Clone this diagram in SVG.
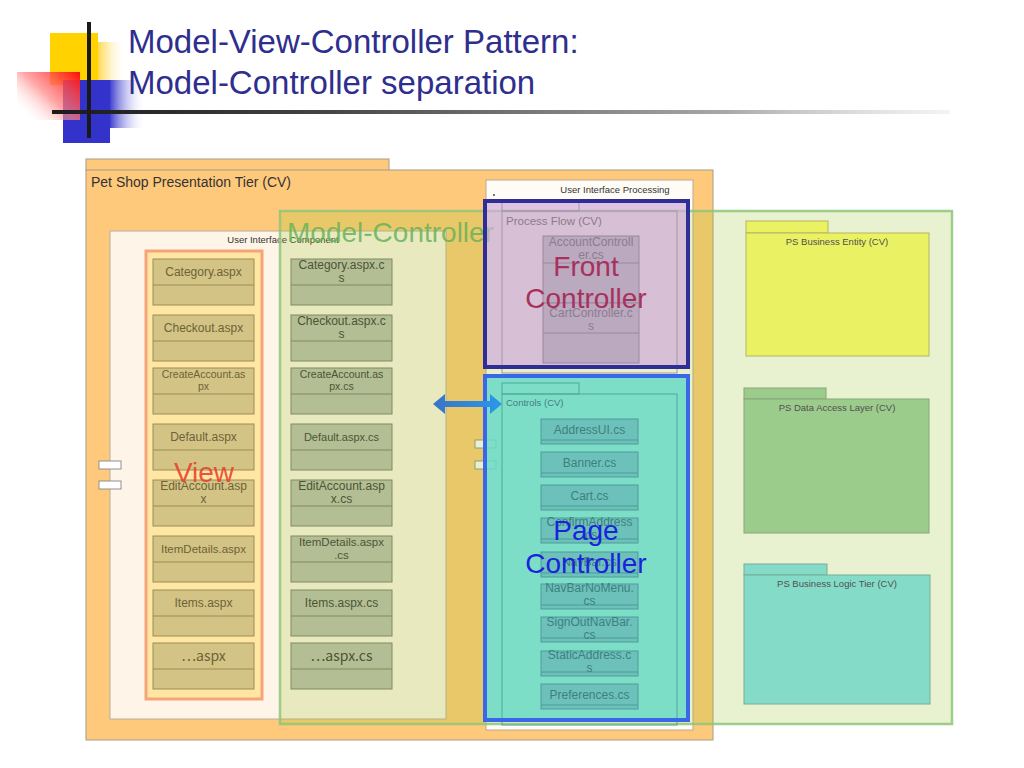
<svg xmlns="http://www.w3.org/2000/svg" width="1024" height="768" viewBox="0 0 1024 768">
<defs>
<linearGradient id="gYel" x1="0" y1="0" x2="1" y2="0"><stop offset="0" stop-color="#FFD84A"/><stop offset="1" stop-color="#FFFFFF" stop-opacity="0"/></linearGradient>
<linearGradient id="gRed" x1="1" y1="0" x2="0" y2="0.8"><stop offset="0" stop-color="#FF0A0A"/><stop offset="0.55" stop-color="#FF8080" stop-opacity="0.7"/><stop offset="1" stop-color="#FFFFFF" stop-opacity="0"/></linearGradient>
<linearGradient id="gBlue" x1="0" y1="0" x2="1" y2="0"><stop offset="0" stop-color="#4040D0"/><stop offset="1" stop-color="#FFFFFF" stop-opacity="0"/></linearGradient>
<linearGradient id="gLine" gradientUnits="userSpaceOnUse" x1="52" y1="0" x2="950" y2="0"><stop offset="0" stop-color="#1A1A1A"/><stop offset="0.3" stop-color="#444444"/><stop offset="0.75" stop-color="#A8A8A8"/><stop offset="1" stop-color="#D8D8D8" stop-opacity="0.3"/></linearGradient>
<linearGradient id="gArrow" x1="0" y1="0" x2="1" y2="0"><stop offset="0" stop-color="#3A74C6"/><stop offset="1" stop-color="#2A98E8"/></linearGradient>
<style>
text{font-family:"Liberation Sans",Arial,"Noto Sans CJK KR",sans-serif}
.title{font-size:33px;fill:#2E2E8E}
.frame{fill:#FFC97C;stroke:#A89A88;stroke-width:1}
.uic{fill:#FFF4E8;stroke:#B8AE9E;stroke-width:1}
.lbl{fill:#333333}
.asp{fill:#D3C486;stroke:#9C8C55;stroke-width:1}
.aspt{fill:#6E6236;text-anchor:middle}
.cs{fill:#B4BE94;stroke:#7F8B5E;stroke-width:1}
.cst{fill:#4C5434;text-anchor:middle}
.pf{fill:#BBA9C0;stroke:#9A88A0;stroke-width:1}
.pft{fill:#8C7C90;text-anchor:middle;font-size:12px}
.ct{fill:#6CC2BA;stroke:#4D9C98;stroke-width:1}
.ctt{fill:#3F7F80;text-anchor:middle;font-size:12px}
.pkgt{font-size:9.5px;fill:#505050;text-anchor:middle}
.port{fill:#FFFFFF;stroke:#909090;stroke-width:1}
.big{font-size:28px;text-anchor:middle}
.cjk{font-family:"Noto Sans CJK KR","Liberation Sans",sans-serif}
</style>
</defs>
<rect width="1024" height="768" fill="#FFFFFF"/>

<g id="decor">
<rect x="50" y="33" width="48" height="52" fill="#FFD200"/>
<rect x="98" y="42" width="28" height="44" fill="url(#gYel)"/>
<rect x="63" y="80" width="47" height="63" fill="#3333CC"/>
<rect x="110" y="80" width="36" height="48" fill="url(#gBlue)"/>
<rect x="17" y="72" width="63" height="48" fill="url(#gRed)"/>
<rect x="52" y="110" width="898" height="4" fill="url(#gLine)"/>
<rect x="87" y="22" width="4" height="116" fill="#1A1A1A"/>
</g>

<g id="title">
<text class="title" x="128" y="53">Model-View-Controller Pattern:</text>
<text class="title" x="128" y="94">Model-Controller separation</text>
</g>

<g id="presentation-tier">
<rect class="frame" x="86" y="159" width="303" height="12"/>
<rect class="frame" x="86" y="170" width="627" height="570"/>
<text class="lbl" x="91" y="187" font-size="14">Pet Shop Presentation Tier (CV)</text>
</g>

<g id="ui-component">
<rect class="uic" x="110" y="231" width="336" height="488"/>
<text class="lbl" x="283" y="243" font-size="9.5" text-anchor="middle">User Interface Component</text>
</g>

<g id="view">
<rect x="146" y="251" width="116" height="448" fill="#FFE6A2" stroke="#F5A47A" stroke-width="3"/>
</g>

<g id="aspx-boxes">
<g id="n-category-aspx"><rect class="asp" x="153" y="259" width="101" height="46"/><line class="asp" x1="153" y1="285" x2="254" y2="285"/><text class="aspt" x="203.5" y="276" font-size="12">Category.aspx</text></g>
<g id="n-checkout-aspx"><rect class="asp" x="153" y="315" width="101" height="46"/><line class="asp" x1="153" y1="341" x2="254" y2="341"/><text class="aspt" x="203.5" y="332" font-size="12">Checkout.aspx</text></g>
<g id="n-createaccount-aspx"><rect class="asp" x="153" y="368" width="101" height="46"/><line class="asp" x1="153" y1="394" x2="254" y2="394"/><text class="aspt" x="203.5" y="378" font-size="10.5">CreateAccount.as</text><text class="aspt" x="203.5" y="390" font-size="10.5">px</text></g>
<g id="n-default-aspx"><rect class="asp" x="153" y="424" width="101" height="46"/><line class="asp" x1="153" y1="450" x2="254" y2="450"/><text class="aspt" x="203.5" y="441" font-size="12">Default.aspx</text></g>
<g id="n-editaccount-aspx"><rect class="asp" x="153" y="480" width="101" height="46"/><line class="asp" x1="153" y1="506" x2="254" y2="506"/><text class="aspt" x="203.5" y="490" font-size="12">EditAccount.asp</text><text class="aspt" x="203.5" y="503" font-size="12">x</text></g>
<g id="n-itemdetails-aspx"><rect class="asp" x="153" y="536" width="101" height="46"/><line class="asp" x1="153" y1="562" x2="254" y2="562"/><text class="aspt" x="203.5" y="553" font-size="11.5">ItemDetails.aspx</text></g>
<g id="n-items-aspx"><rect class="asp" x="153" y="590" width="101" height="46"/><line class="asp" x1="153" y1="616" x2="254" y2="616"/><text class="aspt" x="203.5" y="607" font-size="12">Items.aspx</text></g>
<g id="n-more-aspx"><rect class="asp" x="153" y="643" width="101" height="46"/><line class="asp" x1="153" y1="669" x2="254" y2="669"/><text class="aspt cjk" x="203.5" y="661" font-size="14">…aspx</text></g>
</g>

<g id="ui-processing">
<rect x="486" y="180" width="207" height="550" fill="#FFFCF6" stroke="#B8AA9A" stroke-width="1"/>
<text class="lbl" x="615" y="193" font-size="9.5" text-anchor="middle">User Interface Processing</text>
<circle cx="494" cy="195" r="0.9" fill="#333"/>
</g>

<g id="ports">
<rect class="port" x="99" y="461" width="22" height="8"/>
<rect class="port" x="99" y="481" width="22" height="8"/>
<rect class="port" x="475" y="440" width="21" height="8" fill="#F8F4DC"/>
<rect class="port" x="475" y="461" width="21" height="8" fill="#F8F4DC"/>
</g>

<g id="model-controller">
<rect x="280" y="211" width="672" height="513" fill="rgb(150,195,40)" fill-opacity="0.22" stroke="#8FC57A" stroke-width="2.5" stroke-opacity="0.85"/>
</g>

<g id="cs-boxes">
<g id="n-category-cs"><rect class="cs" x="291" y="259" width="101" height="46"/><line class="cs" x1="291" y1="285" x2="392" y2="285"/><text class="cst" x="341.5" y="269" font-size="12">Category.aspx.c</text><text class="cst" x="341.5" y="282" font-size="12">s</text></g>
<g id="n-checkout-cs"><rect class="cs" x="291" y="315" width="101" height="46"/><line class="cs" x1="291" y1="341" x2="392" y2="341"/><text class="cst" x="341.5" y="325" font-size="12">Checkout.aspx.c</text><text class="cst" x="341.5" y="338" font-size="12">s</text></g>
<g id="n-createaccount-cs"><rect class="cs" x="291" y="368" width="101" height="46"/><line class="cs" x1="291" y1="394" x2="392" y2="394"/><text class="cst" x="341.5" y="378" font-size="10.5">CreateAccount.as</text><text class="cst" x="341.5" y="390" font-size="10.5">px.cs</text></g>
<g id="n-default-cs"><rect class="cs" x="291" y="424" width="101" height="46"/><line class="cs" x1="291" y1="450" x2="392" y2="450"/><text class="cst" x="341.5" y="441" font-size="11">Default.aspx.cs</text></g>
<g id="n-editaccount-cs"><rect class="cs" x="291" y="480" width="101" height="46"/><line class="cs" x1="291" y1="506" x2="392" y2="506"/><text class="cst" x="341.5" y="490" font-size="12">EditAccount.asp</text><text class="cst" x="341.5" y="503" font-size="12">x.cs</text></g>
<g id="n-itemdetails-cs"><rect class="cs" x="291" y="536" width="101" height="46"/><line class="cs" x1="291" y1="562" x2="392" y2="562"/><text class="cst" x="341.5" y="546" font-size="11.5">ItemDetails.aspx</text><text class="cst" x="341.5" y="559" font-size="11.5">.cs</text></g>
<g id="n-items-cs"><rect class="cs" x="291" y="590" width="101" height="46"/><line class="cs" x1="291" y1="616" x2="392" y2="616"/><text class="cst" x="341.5" y="607" font-size="12">Items.aspx.cs</text></g>
<g id="n-more-cs"><rect class="cs" x="291" y="643" width="101" height="46"/><line class="cs" x1="291" y1="669" x2="392" y2="669"/><text class="cst cjk" x="341.5" y="661" font-size="14">…aspx.cs</text></g>
</g>

<g id="packages">
<g id="n-business-entity"><rect x="746" y="221" width="82" height="12" fill="#EAF264" stroke="#B4B464"/><rect x="746" y="233" width="183" height="123" fill="#EAF264" stroke="#B4B464"/><text class="pkgt" x="837" y="245">PS Business Entity (CV)</text></g>
<g id="n-data-access"><rect x="744" y="388" width="82" height="11" fill="#9CCC8C" stroke="#86A676"/><rect x="744" y="399" width="185" height="134" fill="#9CCC8C" stroke="#86A676"/><text class="pkgt" x="837" y="411">PS Data Access Layer (CV)</text></g>
<g id="n-business-logic"><rect x="744" y="564" width="83" height="11" fill="#84DCC8" stroke="#74AC98"/><rect x="744" y="575" width="186" height="129" fill="#84DCC8" stroke="#74AC98"/><text class="pkgt" x="837" y="587">PS Business Logic Tier (CV)</text></g>
</g>

<text x="287" y="242" font-size="28" fill="#6AB25A" fill-opacity="0.85">Model-Controller</text>

<g id="front-controller">
<rect x="485" y="201" width="203" height="166" fill="#D0ACDA" fill-opacity="0.7"/>
<g id="process-flow" fill="none" stroke="#A696A6" stroke-width="1">
<rect x="502" y="211" width="175" height="162"/>
<rect x="502" y="202" width="77" height="9"/>
</g>
<text x="506" y="225" font-size="11.5" fill="#8C7A8C">Process Flow (CV)</text>
<g id="n-accountcontroller"><rect class="pf" x="543" y="236" width="96" height="67"/><line class="pf" x1="543" y1="263" x2="639" y2="263"/><text class="pft" x="591" y="246">AccountControll</text><text class="pft" x="591" y="259">er.cs</text></g>
<g id="n-cartcontroller"><rect class="pf" x="543" y="303" width="96" height="60"/><line class="pf" x1="543" y1="333" x2="639" y2="333"/><text class="pft" x="591" y="317">CartController.c</text><text class="pft" x="591" y="330">s</text></g>
<rect x="485" y="201" width="203" height="166" fill="none" stroke="#2E2E96" stroke-width="4"/>
</g>

<g id="page-controller">
<rect x="485" y="376" width="203" height="344" fill="#6ADAC8" fill-opacity="0.85"/>
<g id="controls" fill="none" stroke="#4FA8A0" stroke-width="1">
<rect x="502" y="394" width="175" height="331"/>
<rect x="502" y="383" width="77" height="11"/>
</g>
<text x="506" y="406" font-size="9.5" fill="#3F7F80">Controls (CV)</text>
<g id="n-addressui"><rect class="ct" x="541" y="419" width="97" height="25"/><line class="ct" x1="541" y1="440" x2="638" y2="440"/><text class="ctt" x="589.5" y="434">AddressUI.cs</text></g>
<g id="n-banner"><rect class="ct" x="541" y="452" width="97" height="25"/><line class="ct" x1="541" y1="473" x2="638" y2="473"/><text class="ctt" x="589.5" y="467">Banner.cs</text></g>
<g id="n-cart"><rect class="ct" x="541" y="485" width="97" height="25"/><line class="ct" x1="541" y1="506" x2="638" y2="506"/><text class="ctt" x="589.5" y="500">Cart.cs</text></g>
<g id="n-confirmaddress"><rect class="ct" x="541" y="518" width="97" height="25"/><line class="ct" x1="541" y1="539" x2="638" y2="539"/><text class="ctt" x="589.5" y="526">ConfirmAddress</text><text class="ctt" x="589.5" y="539">.cs</text></g>
<g id="n-navbar"><rect class="ct" x="541" y="552" width="97" height="25"/><line class="ct" x1="541" y1="573" x2="638" y2="573"/><text class="ctt" x="589.5" y="566">NavBar.cs</text></g>
<g id="n-navbarnomenu"><rect class="ct" x="541" y="584" width="97" height="25"/><line class="ct" x1="541" y1="605" x2="638" y2="605"/><text class="ctt" x="589.5" y="592">NavBarNoMenu.</text><text class="ctt" x="589.5" y="605">cs</text></g>
<g id="n-signoutnavbar"><rect class="ct" x="541" y="617" width="97" height="25"/><line class="ct" x1="541" y1="638" x2="638" y2="638"/><text class="ctt" x="589.5" y="626">SignOutNavBar.</text><text class="ctt" x="589.5" y="639">cs</text></g>
<g id="n-staticaddress"><rect class="ct" x="541" y="651" width="97" height="25"/><line class="ct" x1="541" y1="672" x2="638" y2="672"/><text class="ctt" x="589.5" y="659">StaticAddress.c</text><text class="ctt" x="589.5" y="672">s</text></g>
<g id="n-preferences"><rect class="ct" x="541" y="684" width="97" height="25"/><line class="ct" x1="541" y1="705" x2="638" y2="705"/><text class="ctt" x="589.5" y="699">Preferences.cs</text></g>
<rect x="485" y="376" width="203" height="344" fill="none" stroke="#3A66E8" stroke-width="4"/>
</g>

<g id="connectors">
<path d="M433,404 L445,394 L445,401 L490,401 L490,394 L502,404 L490,414 L490,407 L445,407 L445,414 Z" fill="url(#gArrow)"/>
</g>

<g id="big-labels">
<text class="big" x="204" y="482" fill="#E8402E" fill-opacity="0.9">View</text>
<text class="big" x="586" y="276" fill="#A8305C">Front</text>
<text class="big" x="586" y="308" fill="#A8305C">Controller</text>
<text class="big" x="586" y="540" fill="#1A22DD">Page</text>
<text class="big" x="586" y="573" fill="#1A22DD">Controller</text>
</g>
</svg>
